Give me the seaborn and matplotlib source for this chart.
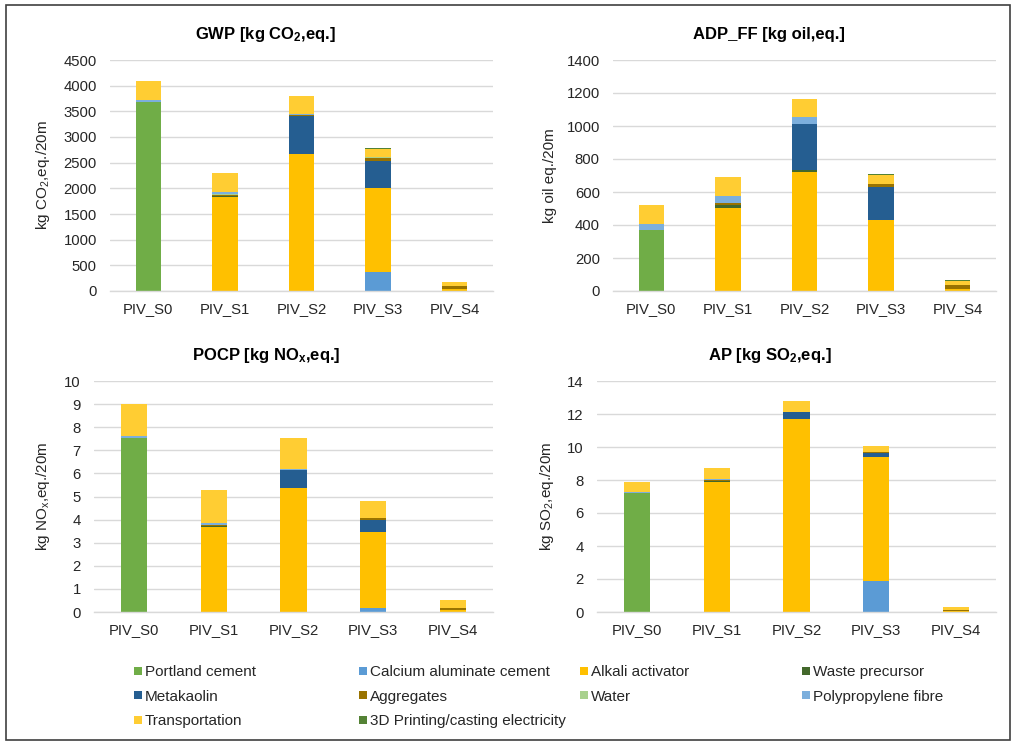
import numpy as np
import pandas as pd
import matplotlib
matplotlib.use("Agg")
import matplotlib.pyplot as plt
import seaborn as sns
from matplotlib.lines import Line2D
from matplotlib.patches import Rectangle

# ---------------------------------------------------------------- data
scenarios = ["PIV_S0", "PIV_S1", "PIV_S2", "PIV_S3", "PIV_S4"]

components = [
    "Portland cement", "Calcium aluminate cement", "Alkali activator",
    "Waste precursor", "Metakaolin", "Aggregates", "Water",
    "Polypropylene fibre", "Transportation", "3D Printing/casting electricity",
]

colors = [
    "#70AD47", "#5B9BD5", "#FFC000", "#43682B", "#255E91",
    "#997300", "#A9D18E", "#7CAFDD", "#FFCD33", "#548235",
]

# Global warming potential, kg CO2 eq. per 20 m
gwp = {
    "Portland cement":                [3680, 0, 0, 0, 0],
    "Calcium aluminate cement":       [0, 0, 0, 365, 0],
    "Alkali activator":               [0, 1840, 2670, 1640, 35],
    "Waste precursor":                [0, 15, 0, 0, 0],
    "Metakaolin":                     [0, 0, 735, 530, 0],
    "Aggregates":                     [0, 20, 15, 65, 70],
    "Water":                          [5, 5, 5, 5, 2],
    "Polypropylene fibre":            [40, 40, 30, 0, 0],
    "Transportation":                 [365, 380, 345, 165, 73],
    "3D Printing/casting electricity": [0, 0, 0, 10, 0],
}

# Abiotic depletion potential (fossil fuels), kg oil eq. per 20 m
adp_ff = {
    "Portland cement":                [370, 0, 0, 0, 0],
    "Calcium aluminate cement":       [0, 0, 0, 3, 0],
    "Alkali activator":               [0, 505, 723, 425, 10],
    "Waste precursor":                [0, 16, 10, 0, 5],
    "Metakaolin":                     [0, 0, 281, 202, 0],
    "Aggregates":                     [0, 14, 0, 20, 20],
    "Water":                          [0, 0, 0, 0, 0],
    "Polypropylene fibre":            [38, 41, 39, 0, 0],
    "Transportation":                 [112, 114, 109, 55, 27],
    "3D Printing/casting electricity": [0, 0, 0, 4, 3],
}

# Photochemical ozone creation potential, kg NOx eq. per 20 m
pocp = {
    "Portland cement":                [7.55, 0, 0, 0, 0],
    "Calcium aluminate cement":       [0, 0, 0, 0.19, 0],
    "Alkali activator":               [0, 3.68, 5.37, 3.29, 0.09],
    "Waste precursor":                [0, 0.04, 0, 0, 0],
    "Metakaolin":                     [0, 0, 0.76, 0.50, 0],
    "Aggregates":                     [0, 0.06, 0.02, 0.09, 0.10],
    "Water":                          [0, 0, 0, 0, 0],
    "Polypropylene fibre":            [0.07, 0.09, 0.06, 0, 0],
    "Transportation":                 [1.40, 1.43, 1.31, 0.72, 0.31],
    "3D Printing/casting electricity": [0, 0, 0, 0.01, 0.02],
}

# Acidification potential, kg SO2 eq. per 20 m
ap = {
    "Portland cement":                [7.20, 0, 0, 0, 0],
    "Calcium aluminate cement":       [0, 0, 0, 1.88, 0],
    "Alkali activator":               [0, 7.90, 11.68, 7.51, 0.07],
    "Waste precursor":                [0, 0.04, 0, 0, 0],
    "Metakaolin":                     [0, 0, 0.42, 0.27, 0],
    "Aggregates":                     [0, 0.03, 0, 0.06, 0.07],
    "Water":                          [0, 0, 0, 0, 0],
    "Polypropylene fibre":            [0.07, 0.07, 0.05, 0, 0],
    "Transportation":                 [0.63, 0.69, 0.64, 0.34, 0.16],
    "3D Printing/casting electricity": [0, 0, 0, 0, 0],
}

# ---------------------------------------------------------------- style
sns.set_theme(style="white")
plt.rcParams["font.family"] = ["Liberation Sans", "DejaVu Sans"]
plt.rcParams["mathtext.fontset"] = "custom"
plt.rcParams["mathtext.rm"] = "Liberation Sans"
plt.rcParams["mathtext.it"] = "Liberation Sans:italic"
plt.rcParams["mathtext.bf"] = "Liberation Sans:bold"

W, H = 1013, 744
fig = plt.figure(figsize=(W / 100, H / 100), dpi=100)
fig.patch.set_facecolor("white")

TEXT = "#262626"
GRID = "#D9D9D9"


def axes_px(left, top, right, bottom):
    return fig.add_axes([left / W, 1 - bottom / H, (right - left) / W, (bottom - top) / H])


panels = [
    (gwp, r"GWP [kg CO$_\mathbf{2}$,eq.]", r"kg CO$_\mathrm{2}$,eq./20m",
     4500, 500, (110, 60, 493, 291), 0.407, -0.151),
    (adp_ff, "ADP_FF [kg oil,eq.]", "kg oil eq./20m",
     1400, 200, (613, 60, 996, 291), 0.407, -0.147),
    (pocp, r"POCP [kg NO$_\mathbf{x}$,eq.]", r"kg NO$_\mathrm{x}$,eq./20m",
     10, 1, (94, 381, 493, 612), 0.433, -0.105),
    (ap, r"AP [kg SO$_\mathbf{2}$,eq.]", r"kg SO$_\mathrm{2}$,eq./20m",
     14, 2, (597, 381, 996, 612), 0.432, -0.104),
]

for data, title, ylabel, ymax, step, box, title_x, ylab_x in panels:
    ax = axes_px(*box)
    df = pd.DataFrame(data, index=scenarios)[components]
    cum = df.cumsum(axis=1)
    # stacked columns: draw cumulative totals from the top layer down
    for comp, col in reversed(list(zip(components, colors))):
        sns.barplot(x=scenarios, y=cum[comp].values, order=scenarios,
                    color=col, saturation=1, width=0.33, linewidth=0,
                    errorbar=None, ax=ax)
    ax.set_xlim(-0.5, 4.5)
    ax.set_ylim(0, ymax)
    ax.set_yticks(np.arange(0, ymax + step / 2, step))
    ax.yaxis.grid(True, color=GRID, linewidth=1.0)
    ax.set_axisbelow(True)
    for side in ("top", "right", "left"):
        ax.spines[side].set_visible(False)
    ax.spines["bottom"].set_color(GRID)
    ax.spines["bottom"].set_linewidth(1.0)
    ax.tick_params(axis="y", length=0, labelsize=10.7, pad=9.5, labelcolor=TEXT)
    ax.tick_params(axis="x", length=0, labelsize=10.7, pad=8, labelcolor=TEXT)
    ax.set_xlabel("")
    ax.set_ylabel(ylabel, fontsize=11, color=TEXT)
    ax.yaxis.set_label_coords(ylab_x, 0.5)
    ax.set_title(title, fontsize=12, fontweight="bold", color="black",
                 x=title_x, pad=15)

# ---------------------------------------------------------------- legend
handles = {c: Line2D([], [], marker="s", linestyle="none", markersize=5.5,
                     markerfacecolor=col, markeredgewidth=0)
           for c, col in zip(components, colors)}
legend_cols = [
    (134, ["Portland cement", "Metakaolin", "Transportation"]),
    (359, ["Calcium aluminate cement", "Aggregates", "3D Printing/casting electricity"]),
    (580, ["Alkali activator", "Water"]),
    (802, ["Waste precursor", "Polypropylene fibre"]),
]
for x0, names in legend_cols:
    fig.legend([handles[n] for n in names], names, loc="upper left",
               bbox_to_anchor=(x0 / W, 1 - 665 / H), frameon=False,
               fontsize=11, borderpad=0, borderaxespad=0, handlelength=0.55,
               handletextpad=0.15, labelspacing=0.7, labelcolor=TEXT)

# outer frame
fig.add_artist(Rectangle((6 / W, 1 - 740 / H), 1004 / W, 735 / H,
                         transform=fig.transFigure, fill=False,
                         edgecolor="#404040", linewidth=1.2))

fig.savefig("out.png", dpi=100, facecolor="white")
